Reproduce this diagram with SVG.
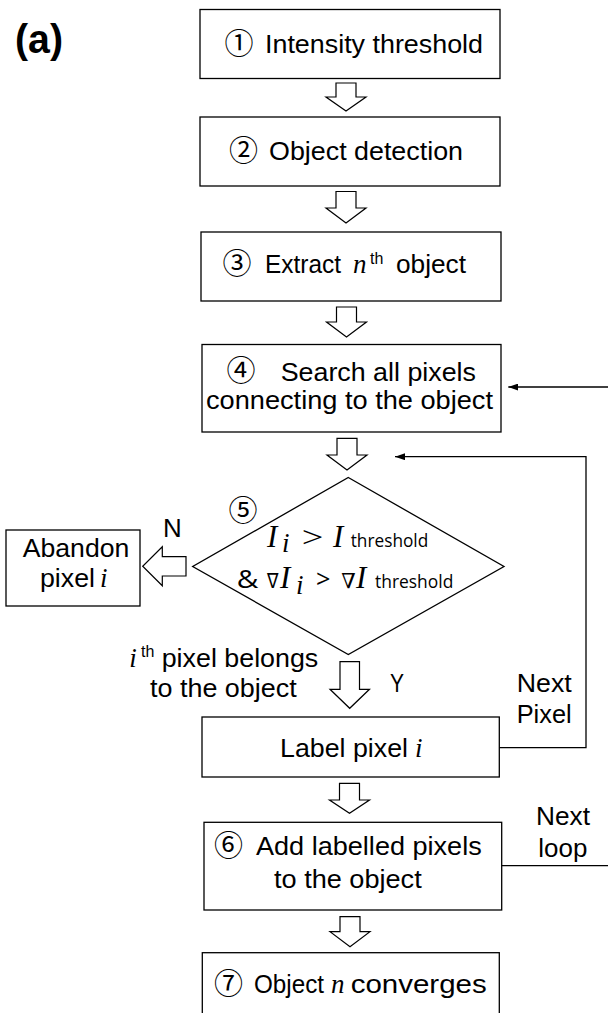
<svg xmlns="http://www.w3.org/2000/svg" width="608" height="1013" viewBox="0 0 608 1013">
  <style>
    .box { fill: #fff; stroke: #000; stroke-width: 1.3; }
    .blk { fill: #fff; stroke: #000; stroke-width: 1.2; stroke-linejoin: miter; }
    .ln { fill: none; stroke: #000; stroke-width: 1.3; }
    .t { font-family: "Liberation Sans", Arial, sans-serif; font-size: 26px; fill: #000; }
    .num { font-family: "Noto Sans CJK JP", "DejaVu Sans", sans-serif; font-size: 29px; fill: #000; text-anchor: middle; }
    .m { font-family: "Liberation Serif", "DejaVu Serif", serif; font-style: italic; font-size: 27px; fill: #000; }
    .mi { font-family: "Liberation Serif", "DejaVu Serif", serif; font-style: italic; font-size: 31px; fill: #000; }
    .sup { font-family: "Liberation Sans", Arial, sans-serif; font-size: 16px; fill: #000; }
    .cal { font-family: "Open Sans", "Noto Sans", sans-serif; fill: #000; }
  </style>
  <defs>
    <marker id="head" viewBox="0 0 10 7" refX="10" refY="3.5" markerWidth="10" markerHeight="7" markerUnits="userSpaceOnUse" orient="auto">
      <path d="M0,0 L10,3.5 L0,7 z" fill="#000"/>
    </marker>
  </defs>

  <rect width="608" height="1013" fill="#fff"/>

  <text x="15" y="53" font-family="Liberation Sans, Arial, sans-serif" font-weight="bold" font-size="40" textLength="48" lengthAdjust="spacingAndGlyphs">(a)</text>

  <!-- step 1 -->
  <g id="n1">
    <rect class="box" x="200" y="9.5" width="300" height="69"/>
    <text class="num" x="239" y="54">①</text>
    <text class="t" x="265" y="53.3" textLength="218" lengthAdjust="spacingAndGlyphs">Intensity threshold</text>
  </g>

  <!-- step 2 -->
  <g id="n2">
    <rect class="box" x="200" y="117" width="300" height="69"/>
    <text class="num" x="243.5" y="161">②</text>
    <text class="t" x="269" y="160.3" textLength="194" lengthAdjust="spacingAndGlyphs">Object detection</text>
  </g>

  <!-- step 3 -->
  <g id="n3">
    <rect class="box" x="201" y="232" width="300" height="69"/>
    <text class="num" x="237" y="274">③</text>
    <text class="t" x="265" y="273.3" textLength="76" lengthAdjust="spacingAndGlyphs">Extract</text>
    <text class="m" x="353" y="273.3">n</text>
    <text class="sup" x="370" y="264">th</text>
    <text class="t" x="396" y="273.3" textLength="70" lengthAdjust="spacingAndGlyphs">object</text>
  </g>

  <!-- step 4 -->
  <g id="n4">
    <rect class="box" x="202" y="344.5" width="299" height="87.5"/>
    <text class="num" x="241" y="381">④</text>
    <text class="t" x="280.7" y="380.7" textLength="195.3" lengthAdjust="spacingAndGlyphs">Search all pixels</text>
    <text class="t" x="206" y="409" textLength="287" lengthAdjust="spacingAndGlyphs">connecting to the object</text>
  </g>

  <!-- step 5: decision -->
  <g id="n5">
    <polygon class="box" points="348.3,477.5 504,566.5 348.3,654.5 192.7,566.5"/>
    <text class="num" x="243" y="521">⑤</text>
    <text class="mi" x="267" y="547.3">I</text>
    <text class="m" x="282" y="552" font-size="20">i</text>
    <text font-family="Liberation Serif, serif" font-size="30" x="301.7" y="547.3" textLength="21.6" lengthAdjust="spacingAndGlyphs">&gt;</text>
    <text class="mi" x="333" y="547.3">I</text>
    <text class="cal" x="350.7" y="547.3" font-size="19" textLength="77.6" lengthAdjust="spacingAndGlyphs">threshold</text>
    <text class="cal" x="236.7" y="588.3" font-size="26" textLength="21.6" lengthAdjust="spacingAndGlyphs">&amp;</text>
    <text font-family="DejaVu Sans, sans-serif" font-size="21" x="267" y="588.3" textLength="11.5" lengthAdjust="spacingAndGlyphs">∇</text>
    <text class="mi" x="280" y="588.3">I</text>
    <text class="m" x="296" y="594" font-size="20">i</text>
    <text class="cal" x="316" y="588.3" font-size="26" textLength="14.5" lengthAdjust="spacingAndGlyphs">&gt;</text>
    <text font-family="DejaVu Serif, serif" font-style="italic" font-size="21" x="341.2" y="588.3" textLength="14.5" lengthAdjust="spacingAndGlyphs">∇</text>
    <text class="mi" x="356" y="588.3">I</text>
    <text class="cal" x="375" y="588.3" font-size="19" textLength="78.3" lengthAdjust="spacingAndGlyphs">threshold</text>
  </g>

  <!-- rejected branch -->
  <g id="n_abandon">
    <rect class="box" x="6" y="530" width="134" height="76"/>
    <text class="t" x="22.7" y="556.7" textLength="106.7" lengthAdjust="spacingAndGlyphs">Abandon</text>
    <text class="t" x="40" y="586.7" textLength="55" lengthAdjust="spacingAndGlyphs">pixel</text>
    <text class="m" x="100" y="586.7">i</text>
  </g>

  <!-- label pixel -->
  <g id="n_label">
    <rect class="box" x="202" y="717" width="297.3" height="60"/>
    <text class="t" x="280" y="756.7" textLength="128" lengthAdjust="spacingAndGlyphs">Label pixel</text>
    <text class="m" x="415" y="756.7">i</text>
  </g>

  <!-- step 6 -->
  <g id="n6">
    <rect class="box" x="204" y="822.3" width="297.7" height="87.7"/>
    <text class="num" x="228.5" y="855.5">⑥</text>
    <text class="t" x="256" y="855" textLength="225.7" lengthAdjust="spacingAndGlyphs">Add labelled pixels</text>
    <text class="t" x="274" y="888.3" textLength="147.7" lengthAdjust="spacingAndGlyphs">to the object</text>
  </g>

  <!-- step 7 -->
  <g id="n7">
    <rect class="box" x="202.3" y="952.7" width="297" height="70"/>
    <text class="num" x="228.5" y="994">⑦</text>
    <text class="t" x="254" y="993.3" textLength="70" lengthAdjust="spacingAndGlyphs">Object</text>
    <text class="m" x="331" y="993.3">n</text>
    <text class="t" x="350.7" y="993.3" textLength="136" lengthAdjust="spacingAndGlyphs">converges</text>
  </g>

  <!-- connectors: block arrows, loop-back lines and branch labels -->
  <g id="connectors">
    <polygon class="blk" points="336,83 356,83 356,97 366,97 346,111 326,97 336,97"/>
    <polygon class="blk" points="336,191.5 356,191.5 356,208 366,208 346,223 326,208 336,208"/>
    <polygon class="blk" points="336.5,307 356.5,307 356.5,322 366.5,322 346.5,337 326.5,322 336.5,322"/>
    <polygon class="blk" points="337,438.3 357,438.3 357,455 367,455 347,470 327,455 337,455"/>
    <polygon class="blk" points="186,556.7 186,576 162.3,576 162.3,585.7 142.7,566.2 162.3,546.7 162.3,556.7"/>
    <polygon class="blk" points="340,661.7 359.5,661.7 359.5,689.3 369.5,689.3 349.7,708.3 330,689.3 340,689.3"/>
    <polygon class="blk" points="339.5,783.3 359.5,783.3 359.5,800 369.5,800 349.5,813.3 329.5,800 339.5,800"/>
    <polygon class="blk" points="340,916.7 360,916.7 360,931.7 370,931.7 350,946.7 330,931.7 340,931.7"/>

    <line class="ln" x1="608" y1="387" x2="508.3" y2="387" marker-end="url(#head)"/>
    <polyline class="ln" points="499.3,747.7 586,747.7 586,456.7 395,456.7" marker-end="url(#head)"/>
    <line class="ln" x1="501.7" y1="865.7" x2="608" y2="865.7"/>

    <text class="t" x="163" y="537.3" textLength="18.7" lengthAdjust="spacingAndGlyphs">N</text>
    <text class="t" x="390" y="691.7" textLength="14" lengthAdjust="spacingAndGlyphs">Y</text>
    <text class="m" x="129.3" y="666.7">i</text>
    <text class="sup" x="141" y="656.5">th</text>
    <text class="t" x="161.7" y="666.7" textLength="156.6" lengthAdjust="spacingAndGlyphs">pixel belongs</text>
    <text class="t" x="150" y="696.7" textLength="146.7" lengthAdjust="spacingAndGlyphs">to the object</text>
    <text class="t" x="516.7" y="691.7" textLength="55" lengthAdjust="spacingAndGlyphs">Next</text>
    <text class="t" x="516.7" y="723.3" textLength="55" lengthAdjust="spacingAndGlyphs">Pixel</text>
    <text class="t" x="536" y="825" textLength="54" lengthAdjust="spacingAndGlyphs">Next</text>
    <text class="t" x="538.3" y="856.7" textLength="49" lengthAdjust="spacingAndGlyphs">loop</text>
  </g>
</svg>
